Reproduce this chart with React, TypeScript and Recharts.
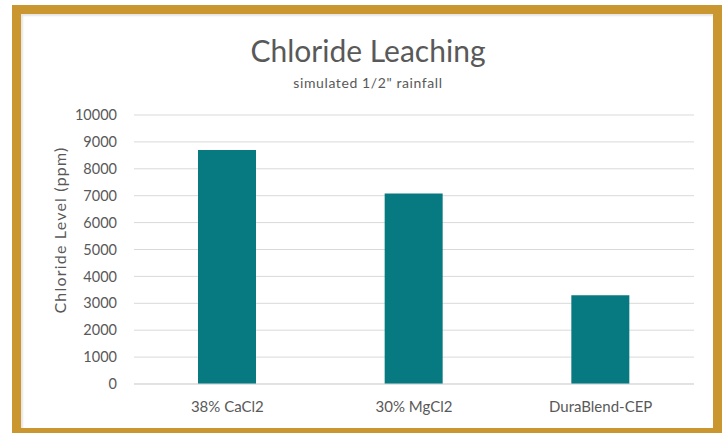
import * as React from "react";
import { BarChart, Bar, XAxis, YAxis, CartesianGrid } from "recharts";

const categories = ["38% CaCl2", "30% MgCl2", "DuraBlend-CEP"];
const chlorideLevels = [8700, 7080, 3300];
const yTicks = [0, 1000, 2000, 3000, 4000, 5000, 6000, 7000, 8000, 9000, 10000];

const chartData = categories.map((name, i) => ({ name, level: chlorideLevels[i] }));

const textColor = "#595959";
const font = "Lato, 'Open Sans', sans-serif";

export default function App() {
    return (
        <div style={{ position: "absolute", left: 0, top: 0, width: 722, height: 433, overflow: "hidden", background: "#fff" }}>
            <div
                style={{
                    position: "absolute",
                    left: 12,
                    top: 5,
                    width: 710,
                    height: 432,
                    boxSizing: "border-box",
                    border: "9px solid #C9962F",
                    boxShadow: "inset 2px 2px 2px rgba(0,0,0,0.10)",
                }}
            />
            <div style={{ position: "absolute", left: 0, top: 0 }}>
                <BarChart
                    width={722}
                    height={433}
                    data={chartData}
                    margin={{ top: 115, right: 28, bottom: 19, left: 74 }}
                    style={{ fontFamily: font }}>
                    <CartesianGrid vertical={false} stroke="#D9D9D9" />
                    <XAxis
                        dataKey="name"
                        height={30}
                        tickLine={false}
                        tickSize={0}
                        tickMargin={17}
                        axisLine={{ stroke: "#D9D9D9" }}
                        tick={{ fontSize: 15, fill: textColor, fontFamily: font }} />
                    <YAxis
                        width={60}
                        domain={[0, 10000]}
                        ticks={yTicks}
                        interval={0}
                        axisLine={false}
                        tickLine={false}
                        tickSize={0}
                        tickMargin={17}
                        tick={{ fontSize: 14.5, fill: textColor, fontFamily: font }} />
                    <Bar dataKey="level" fill="#067A80" barSize={58} isAnimationActive={false} />
                </BarChart>
            </div>
            <svg
                width={722}
                height={433}
                style={{ position: "absolute", left: 0, top: 0, pointerEvents: "none", fontFamily: font }}>
                <text x={368} y={62} textAnchor="middle" fontSize={30} fill={textColor}>
                    Chloride Leaching
                </text>
                <text x={368} y={88} textAnchor="middle" fontSize={14} letterSpacing={0.6} fill={textColor}>
                    simulated 1/2" rainfall
                </text>
                <text
                    x={66}
                    y={230}
                    textAnchor="middle"
                    fontSize={16}
                    letterSpacing={1.2}
                    fill={textColor}
                    transform="rotate(-90, 66, 230)">
                    Chloride Level  (ppm)
                </text>
            </svg>
        </div>
    );
}
